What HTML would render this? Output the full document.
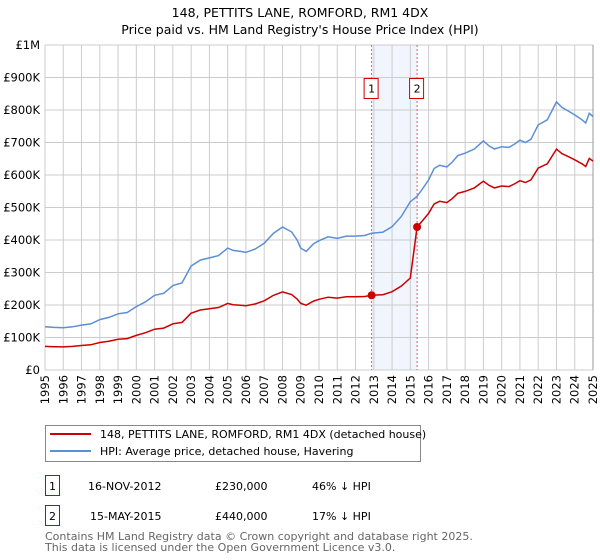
<!DOCTYPE html>
<html><head><meta charset="utf-8"><style>
body{margin:0;background:#fff;font-family:"DejaVu Sans","Liberation Sans",sans-serif;}
svg{display:block}
</style></head><body>
<svg id="chart" width="600" height="560" xmlns="http://www.w3.org/2000/svg" font-family="DejaVu Sans, Liberation Sans, sans-serif">
<text x="300" y="17" text-anchor="middle" font-size="12.5">148, PETTITS LANE, ROMFORD, RM1 4DX</text>
<text x="300" y="34" text-anchor="middle" font-size="12.5">Price paid vs. HM Land Registry's House Price Index (HPI)</text>
<g id="grid"></g><g id="axes"></g><g id="series"></g>
<g>
<rect x="45.5" y="425.5" width="375" height="36" fill="#fff" stroke="#888"/>
<line x1="50" y1="434" x2="91" y2="434" stroke="#cc0000" stroke-width="2"/>
<text x="100" y="438" font-size="11">148, PETTITS LANE, ROMFORD, RM1 4DX (detached house)</text>
<line x1="50" y1="451" x2="91" y2="451" stroke="#5b8fd6" stroke-width="2"/>
<text x="100" y="455" font-size="11">HPI: Average price, detached house, Havering</text>
</g>
<g font-size="11">
<rect x="45.5" y="475.5" width="14" height="20" fill="#fff" stroke="#cc0000"/>
<text x="52.5" y="490" text-anchor="middle">1</text>
<text x="88" y="490">16-NOV-2012</text><text x="215" y="490">£230,000</text><text x="312" y="490">46% ↓ HPI</text>
</g>
<g font-size="11">
<rect x="45.5" y="505.5" width="14" height="20" fill="#fff" stroke="#cc0000"/>
<text x="52.5" y="520" text-anchor="middle">2</text>
<text x="90" y="520">15-MAY-2015</text><text x="215" y="520">£440,000</text><text x="312" y="520">17% ↓ HPI</text>
</g>
<text x="45" y="540" font-size="11" fill="#666">Contains HM Land Registry data © Crown copyright and database right 2025.</text>
<text x="45" y="551" font-size="11" fill="#666">This data is licensed under the Open Government Licence v3.0.</text>
</svg>
<script>
const hpiYears=[1995,1995.5,1996,1996.5,1997,1997.5,1998,1998.5,1999,1999.5,2000,2000.5,2001,2001.5,2002,2002.5,2003,2003.5,2004,2004.5,2005,2005.3,2005.7,2006,2006.5,2007,2007.5,2008,2008.5,2008.8,2009,2009.3,2009.7,2010,2010.5,2011,2011.5,2012,2012.5,2012.88,2013.5,2014,2014.5,2015,2015.37,2015.7,2016,2016.3,2016.6,2017,2017.3,2017.6,2018,2018.5,2019,2019.3,2019.6,2020,2020.4,2020.7,2021,2021.3,2021.6,2022,2022.5,2023,2023.3,2023.7,2024,2024.4,2024.6,2024.8,2025];
const hpiValues=[133,131,130,133,138,142,155,162,173,177,195,210,230,236,260,268,320,338,345,352,375,368,365,362,372,390,420,440,425,400,375,365,388,398,410,405,412,412,414,421,424,441,472,518,534,560,585,620,630,625,640,660,667,680,705,690,680,687,685,695,707,700,710,754,770,825,808,795,785,770,760,790,780];
const saleYears=[2012.88,2015.37];
const salePrices=[230,440];
const yTicks=[0,100,200,300,400,500,600,700,800,900,1000];
const yTickLabels=["£0","£100K","£200K","£300K","£400K","£500K","£600K","£700K","£800K","£900K","£1M"];
const xTicks=[1995,1996,1997,1998,1999,2000,2001,2002,2003,2004,2005,2006,2007,2008,2009,2010,2011,2012,2013,2014,2015,2016,2017,2018,2019,2020,2021,2022,2023,2024,2025];
const NS="http://www.w3.org/2000/svg";
const X0=45,X1=593,Y0=370,Y1=45;
const xs=t=>X0+(t-1995)/30*(X1-X0);
const ys=v=>Y0-v/1000*(Y0-Y1);
function mk(tag,attrs,parent){const e=document.createElementNS(NS,tag);for(const k in attrs)e.setAttribute(k,attrs[k]);parent.appendChild(e);return e;}
const grid=document.getElementById('grid'),axes=document.getElementById('axes'),series=document.getElementById('series');
// shaded region
const shade=mk('rect',{x:xs(saleYears[0]),y:Y1,width:xs(saleYears[1])-xs(saleYears[0]),height:Y0-Y1,fill:'#eef3fd',opacity:0.8},grid);


yTicks.forEach((v,i)=>{
 const l=mk('line',{x1:X0,x2:X1,y1:ys(v),y2:ys(v),stroke:'#cccccc'},grid);
 
 
 const t=mk('text',{x:X0-5,y:ys(v)+4,'text-anchor':'end','font-size':'11.5'},axes);
 t.textContent=yTickLabels[i];
 
 
});
xTicks.forEach(yr=>{
 const l=mk('line',{x1:xs(yr),x2:xs(yr),y1:Y1,y2:Y0,stroke:'#cccccc'},grid);
 
 
 const t=mk('text',{x:0,y:0,'text-anchor':'end','font-size':'11.5',transform:`translate(${xs(yr)+4},${Y0+5}) rotate(-90)`},axes);
 t.textContent=yr;
 
 
});
const rb=mk('line',{x1:X1,x2:X1,y1:Y1,y2:Y0,stroke:'#999'},axes);


function interp(t){for(let i=1;i<hpiYears.length;i++){if(t<=hpiYears[i]){const f=(t-hpiYears[i-1])/(hpiYears[i]-hpiYears[i-1]);return hpiValues[i-1]+f*(hpiValues[i]-hpiValues[i-1]);}}return hpiValues[hpiValues.length-1];}
// markers / dashed lines
saleYears.forEach((yr,i)=>{
 const d=mk('line',{x1:xs(yr),x2:xs(yr),y1:Y1,y2:Y0,stroke:'#e06060','stroke-dasharray':'2,2'},grid);
 
 
 const g=mk('g',{},series);
 
 
 mk('rect',{x:xs(yr)-7.5,y:78.5,width:14,height:20,fill:'#fff',stroke:'#cc0000'},g);
 const t=mk('text',{x:xs(yr),y:92.5,'text-anchor':'middle','font-size':'11'},g);t.textContent=i+1;
});
// HPI line
let p='';hpiYears.forEach((t,i)=>{p+=(i?'L':'M')+xs(t).toFixed(1)+','+ys(hpiValues[i]).toFixed(1);});
const hl=mk('path',{d:p,fill:'none',stroke:'#5b8fd6','stroke-width':1.5},series);


// price paid line: HPI scaled from each sale
let rp='';let first=true;
function scaleAt(t){let idx=0;for(let i=0;i<saleYears.length;i++)if(t>=saleYears[i])idx=i;return salePrices[idx]/interp(saleYears[idx]);}
const pts=[];
hpiYears.forEach((t,i)=>{
 if(t>saleYears[1]&&pts.length&&pts[pts.length-1][0]<saleYears[1]){pts.push([saleYears[1],interp(saleYears[1])*salePrices[0]/interp(saleYears[0])]);pts.push([saleYears[1],salePrices[1]]);}
 pts.push([t,hpiValues[i]*scaleAt(t)]);
});
pts.forEach(q=>{rp+=(first?'M':'L')+xs(q[0]).toFixed(1)+','+ys(q[1]).toFixed(1);first=false;});
const rl=mk('path',{d:rp,fill:'none',stroke:'#cc0000','stroke-width':1.5},series);


saleYears.forEach((yr,i)=>{
 const c=mk('circle',{cx:xs(yr),cy:ys(salePrices[i]),r:4,fill:'#cc0000'},series);
 
 
});
</script>
</body></html>
